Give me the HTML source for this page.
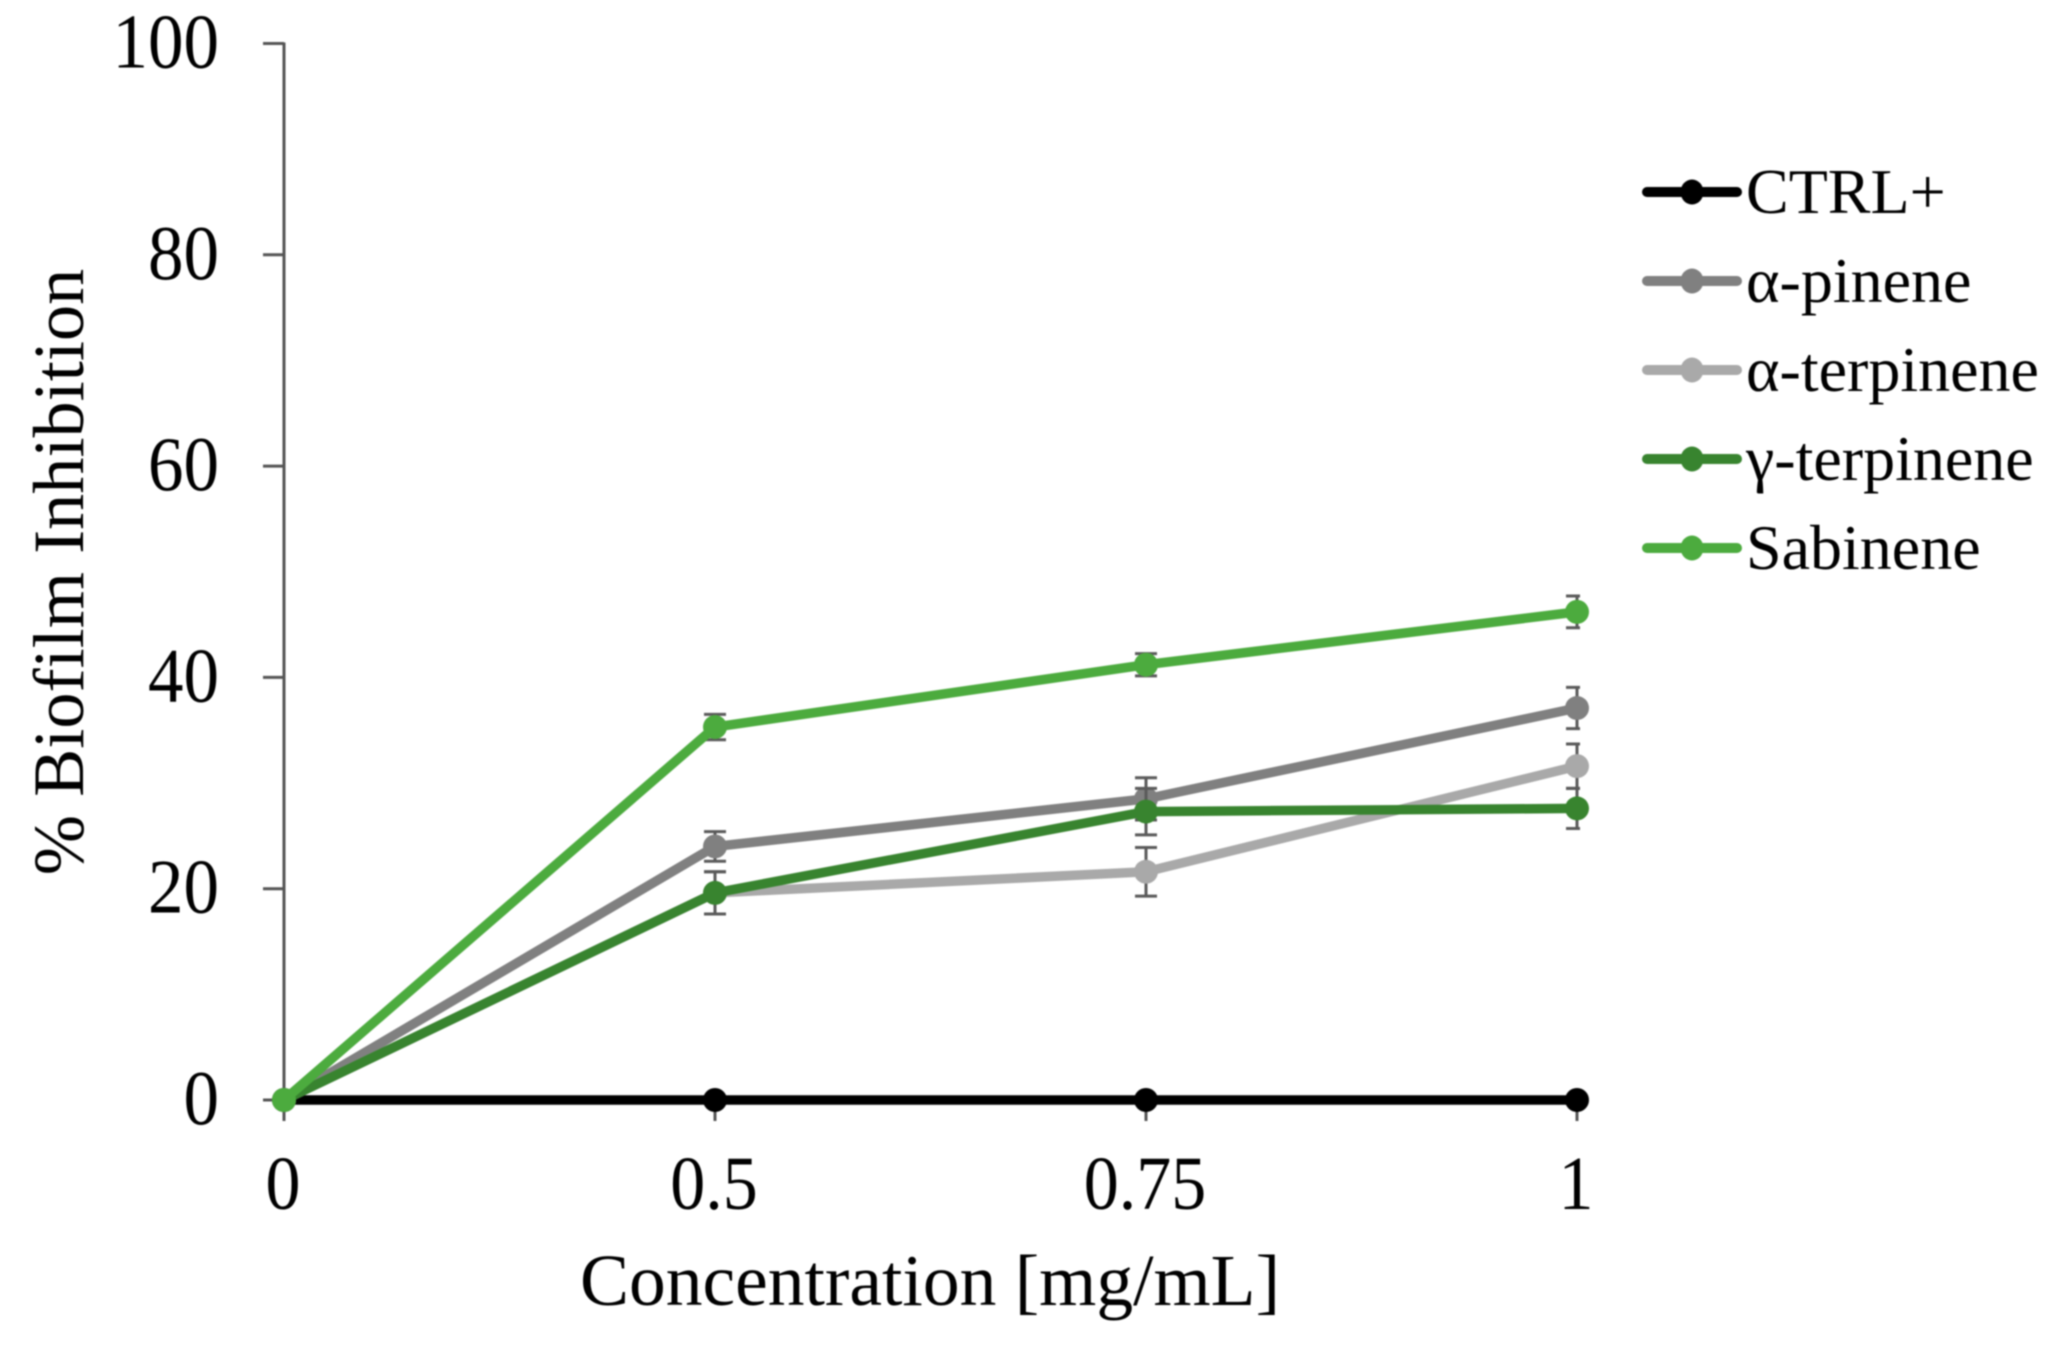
<!DOCTYPE html>
<html lang="en">
<head>
<meta charset="utf-8">
<title>% Biofilm Inhibition vs Concentration</title>
<style>
  html, body { margin: 0; padding: 0; background: #fff; }
  body { width: 2059px; height: 1346px; overflow: hidden; }
  svg { display: block; filter: blur(0.9px); font-family: "Liberation Serif", "DejaVu Serif", serif; fill: #000; }
</style>
</head>
<body>
<svg id="chart" xmlns="http://www.w3.org/2000/svg" width="2059" height="1346" viewBox="0 0 2059 1346">
  <text transform="translate(83 572) rotate(-90)" text-anchor="middle" font-size="72.3">% Biofilm Inhibition</text>
  <text x="930" y="1305" text-anchor="middle" font-size="73.5">Concentration [mg/mL]</text>
</svg>
<script>
const categories = ["0", "0.5", "0.75", "1"];
const yTickValues = [0, 20, 40, 60, 80, 100];
const seriesNames = ["CTRL+", "α-pinene", "α-terpinene", "γ-terpinene", "Sabinene"];
const seriesColors = ["#000000", "#808080", "#a9a9a9", "#38842f", "#4cab3e"];
const ctrlValues = [0, 0, 0, 0];
const ctrlErrors = [0, 0, 0, 0];
const pineneValues = [0, 24.0, 28.5, 37.1];
const pineneErrors = [0, 1.4, 2.0, 1.95];
const aTerpineneValues = [0, 19.6, 21.6, 31.6];
const aTerpineneErrors = [0, 2.0, 2.3, 2.1];
const gTerpineneValues = [0, 19.6, 27.3, 27.6];
const gTerpineneErrors = [0, 2.0, 2.2, 1.9];
const sabineneValues = [0, 35.3, 41.2, 46.2];
const sabineneErrors = [0, 1.2, 1.05, 1.5];
const allValues = [ctrlValues, pineneValues, aTerpineneValues, gTerpineneValues, sabineneValues];
const allErrors = [ctrlErrors, pineneErrors, aTerpineneErrors, gTerpineneErrors, sabineneErrors];

const svg = document.getElementById('chart');
const NS = 'http://www.w3.org/2000/svg';
const plotLeft = 284, plotStep = 431, plotBottom = 1100, pxPerUnit = 10.565;
const xPos = i => plotLeft + plotStep * i;
const yPos = v => plotBottom - pxPerUnit * v;

function make(tag, props, parent) {
  const el = document.createElementNS(NS, tag);
  for (const k in props) el.setAttribute(k, props[k]);
  (parent || svg).appendChild(el);
  return el;
}

const defs = make('defs', {});
const clip = make('clipPath', { id: 'plot-clip' }, defs);
make('rect', { x: 0, y: 0, width: xPos(categories.length - 1) + 3, height: 1346 }, clip);

const axisColor = '#555';
const yAxisLine = make('line', { x1: plotLeft, x2: plotLeft, y1: yPos(100) - 1, y2: plotBottom + 21, stroke: axisColor, 'stroke-width': 3 });


const xAxisLine = make('line', { x1: plotLeft, x2: xPos(categories.length - 1), y1: plotBottom - 2, y2: plotBottom - 2, stroke: '#888', 'stroke-width': 3 });



yTickValues.forEach(v => {
  const tick = make('line', { x1: plotLeft - 21, x2: plotLeft, y1: yPos(v), y2: yPos(v), stroke: axisColor, 'stroke-width': 3 });
  
  
  const label = make('text', { transform: 'translate(219 ' + (yPos(v) + 24) + ') scale(1 1.09)', 'text-anchor': 'end', 'font-size': 71 });
  label.textContent = String(v);
  
  
});

categories.forEach((c, i) => {
  const tick = make('line', { x1: xPos(i), x2: xPos(i), y1: plotBottom, y2: plotBottom + 21, stroke: axisColor, 'stroke-width': 3 });
  
  
  const label = make('text', { transform: 'translate(' + (xPos(i) - 1) + ' 1209) scale(1 1.09)', 'text-anchor': 'middle', 'font-size': 70 });
  label.textContent = c;
  
  
});

allValues.forEach((values, s) => {
  const color = seriesColors[s];
  const group = make('g', {});
  
  

  const errGroup = make('g', { 'clip-path': 'url(#plot-clip)' }, group);
  values.forEach((v, i) => {
    const e = allErrors[s][i];
    if (e <= 0) return;
    const x = xPos(i), top = yPos(v + e), bot = yPos(v - e);
    const err = make('path', {
      d: 'M' + (x - 11) + ' ' + top + 'H' + (x + 11) + 'M' + x + ' ' + top + 'V' + bot + 'M' + (x - 11) + ' ' + bot + 'H' + (x + 11),
      fill: 'none', stroke: '#5a5a5a', 'stroke-width': 3
    }, errGroup);
    
    
  });

  const pts = values.map((v, i) => xPos(i) + ',' + yPos(v)).join(' ');
  const line = make('polyline', { points: pts, fill: 'none', stroke: color, 'stroke-width': 9.5, 'stroke-linejoin': 'round' }, group);
  
  

  values.forEach((v, i) => {
    const dot = make('circle', { cx: xPos(i), cy: yPos(v), r: 12, fill: color }, group);
    
    
  });
});

const legendY = [192, 281, 370, 459, 548];
seriesNames.forEach((name, s) => {
  const y = legendY[s];
  const entry = make('g', {});
  
  
  make('line', { x1: 1647, x2: 1737, y1: y, y2: y, stroke: seriesColors[s], 'stroke-width': 10, 'stroke-linecap': 'round' }, entry);
  make('ellipse', { cx: 1692, cy: y, rx: 11.5, ry: 12.5, fill: seriesColors[s] }, entry);
  const text = make('text', { x: 1746, y: y + 21, 'font-size': 64 }, entry);
  text.textContent = name;
  
  
});
</script>
</body>
</html>
